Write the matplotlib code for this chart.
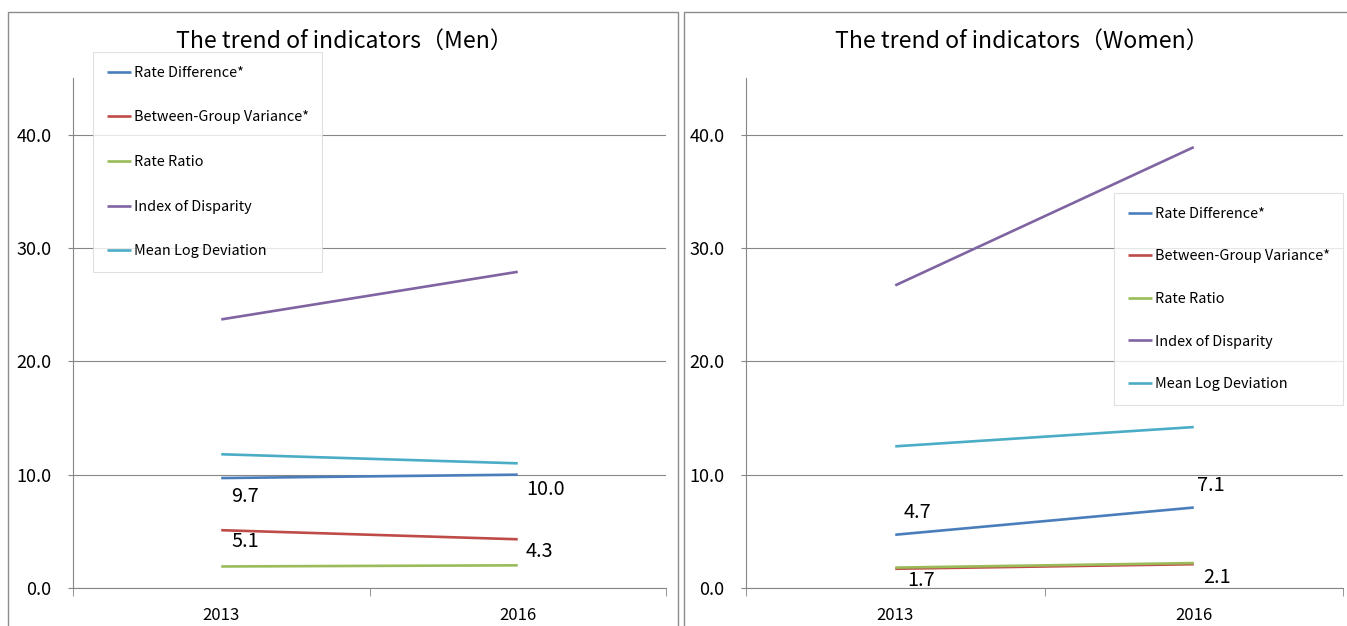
import matplotlib.pyplot as plt
from matplotlib.patches import Rectangle

plt.rcParams['font.family'] = ['Noto Sans CJK JP', 'DejaVu Sans']

years = ['2013', '2016']
series_names = ['Rate Difference*', 'Between-Group Variance*', 'Rate Ratio',
                'Index of Disparity', 'Mean Log Deviation']
colors = ['#4a7ebb', '#be4b48', '#9bbb59', '#8064a2', '#4bacc6']

men_rate_diff = [9.7, 10.0]
men_bgv = [5.1, 4.3]
men_rate_ratio = [1.9, 2.0]
men_idisp = [23.7, 27.9]
men_mld = [11.8, 11.0]

women_rate_diff = [4.7, 7.1]
women_bgv = [1.7, 2.1]
women_rate_ratio = [1.8, 2.2]
women_idisp = [26.7, 38.9]
women_mld = [12.5, 14.2]

grid_col = '#868686'

fig = plt.figure(figsize=(13.47, 6.26), dpi=100)

# panel frames (bottom edge runs off the image)
W, H = 1347, 626
for x0, x1 in [(8, 678), (684, 1352)]:
    fig.patches.append(Rectangle((x0 / W, -0.05), (x1 - x0) / W, 1.05 - 12 / H,
                                 transform=fig.transFigure, fill=False,
                                 edgecolor='#8c8c8c', linewidth=1.0))


def draw_panel(rect, data, title, title_x, legend_box, spacing, labels):
    ax = fig.add_axes(rect)
    xs = list(range(len(years)))
    for vals, name, c in zip(data, series_names, colors):
        ax.plot(xs, vals, color=c, linewidth=1.9, label=name, solid_capstyle='butt')
    ax.set_xlim(-0.5, 1.5)
    ax.set_ylim(0, 45)
    ax.set_yticks([0, 10, 20, 30, 40])
    ax.set_yticklabels([f'{t:.1f}' for t in [0, 10, 20, 30, 40]])
    ax.yaxis.grid(True, color=grid_col, linewidth=0.8)
    ax.set_axisbelow(True)
    ax.set_xticks(xs)
    ax.set_xticklabels(years)
    ax.set_xticks([-0.5, 0.5, 1.5], minor=True)
    ax.tick_params(axis='x', which='major', length=0, labelsize=12, pad=14)
    ax.tick_params(axis='x', which='minor', length=6, color=grid_col, direction='out')
    ax.tick_params(axis='y', length=3.6, color=grid_col, labelsize=13, pad=12)
    for s in ['top', 'right']:
        ax.spines[s].set_visible(False)
    ax.spines['left'].set_color(grid_col)
    ax.spines['bottom'].set_color(grid_col)
    ax.spines['left'].set_linewidth(0.8)
    ax.spines['bottom'].set_linewidth(0.8)
    fig.text(title_x / W, 1 - 41 / H, title, ha='center', va='center', fontsize=16.6)
    leg = ax.legend(loc='upper left', bbox_to_anchor=legend_box,
                    bbox_transform=fig.transFigure, frameon=True, fancybox=False,
                    fontsize=10.4, handlelength=1.66, handletextpad=0.2,
                    labelspacing=spacing, borderpad=0.95, borderaxespad=0)
    leg.get_frame().set_edgecolor('#d9d9d9')
    leg.get_frame().set_linewidth(0.8)
    for xi, vals, dx, dy in labels:
        ax.annotate(f'{vals[xi]:.1f}', (xi, vals[xi]), xytext=(dx, dy),
                    textcoords='offset points', fontsize=14.3, ha='left', va='center')
    return ax


men_data = [men_rate_diff, men_bgv, men_rate_ratio, men_idisp, men_mld]
women_data = [women_rate_diff, women_bgv, women_rate_ratio, women_idisp, women_mld]

draw_panel([73 / W, 1 - 588 / H, (666 - 73) / W, (588 - 78) / H], men_data,
           'The trend of indicators（Men）', 344, (93 / W, 1 - 52 / H), 2.12,
           [(0, men_rate_diff, 7, -13), (1, men_rate_diff, 6, -10.5),
            (0, men_bgv, 7, -8), (1, men_bgv, 6, -9)])

draw_panel([746 / W, 1 - 588 / H, (1343 - 746) / W, (588 - 78) / H], women_data,
           'The trend of indicators（Women）', 1022, (1114 / W, 1 - 193 / H), 1.98,
           [(0, women_rate_diff, 6, 16), (1, women_rate_diff, 2.5, 16),
            (0, women_bgv, 8.5, -8.5), (1, women_bgv, 7, -9.5)])

fig.savefig('out.png', dpi=100)
